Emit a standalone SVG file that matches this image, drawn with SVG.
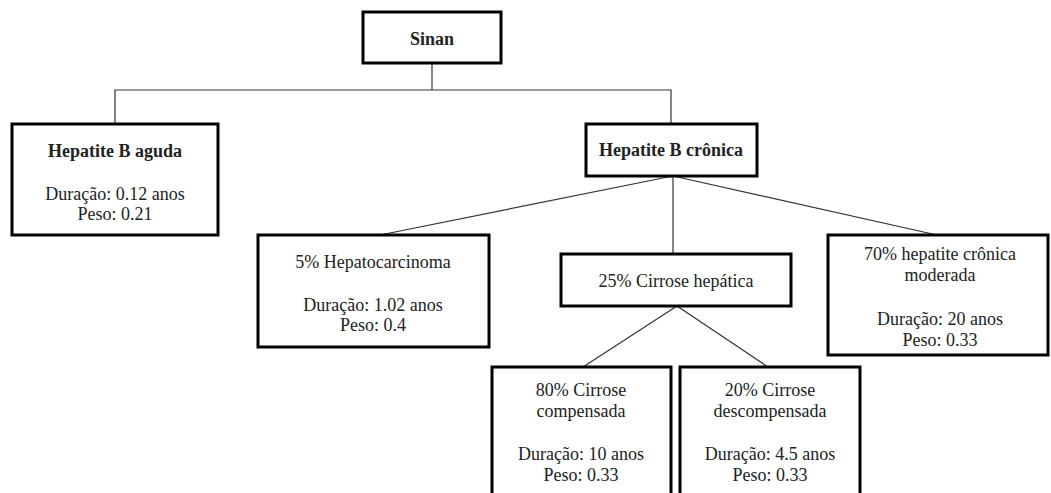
<svg xmlns="http://www.w3.org/2000/svg" width="1051" height="493" viewBox="0 0 1051 493">
<style>
.box{fill:#fff;stroke:#000;stroke-width:3}
.t{font-family:'Liberation Serif','DejaVu Serif','Times New Roman',serif;font-size:18px;fill:#222;text-anchor:middle}
.b{font-weight:bold}
.c{fill:none;stroke:#333;stroke-width:1.2}
</style>
<rect width="1051" height="493" fill="#fff"/>
<g id="connectors">
<polyline class="c" points="432,63 432,90"/>
<polyline class="c" points="115,124 115,90 671,90 671,124"/>
<line class="c" x1="673" y1="176" x2="380" y2="235"/>
<line class="c" x1="673" y1="176" x2="673" y2="254"/>
<line class="c" x1="673" y1="176" x2="937" y2="235"/>
<line class="c" x1="677" y1="306" x2="583" y2="367"/>
<line class="c" x1="677" y1="306" x2="768" y2="367"/>
</g>
<g id="sinan">
<rect class="box" x="363" y="12" width="138" height="51"/>
<text class="t b" x="432" y="45">Sinan</text>
</g>
<g id="aguda">
<rect class="box" x="12" y="124" width="206" height="111"/>
<text class="t b" x="115" y="157">Hepatite B aguda</text>
<text class="t" x="115" y="200">Duração: 0.12 anos</text>
<text class="t" x="115" y="220">Peso: 0.21</text>
</g>
<g id="cronica">
<rect class="box" x="586" y="124" width="171" height="52"/>
<text class="t b" x="671" y="156">Hepatite B crônica</text>
</g>
<g id="hepatocarcinoma">
<rect class="box" x="258" y="235" width="231" height="112"/>
<text class="t" x="373" y="268">5% Hepatocarcinoma</text>
<text class="t" x="373" y="311">Duração: 1.02 anos</text>
<text class="t" x="373" y="331">Peso: 0.4</text>
</g>
<g id="cirrose">
<rect class="box" x="561" y="254" width="230" height="52"/>
<text class="t" x="676" y="287">25% Cirrose hepática</text>
</g>
<g id="moderada">
<rect class="box" x="828" y="235" width="220" height="120"/>
<text class="t" x="940" y="260">70% hepatite crônica</text>
<text class="t" x="940" y="281">moderada</text>
<text class="t" x="940" y="325">Duração: 20 anos</text>
<text class="t" x="940" y="346">Peso: 0.33</text>
</g>
<g id="compensada">
<rect class="box" x="492" y="367" width="179" height="140"/>
<text class="t" x="581" y="396">80% Cirrose</text>
<text class="t" x="581" y="417">compensada</text>
<text class="t" x="581" y="460">Duração: 10 anos</text>
<text class="t" x="581" y="481">Peso: 0.33</text>
</g>
<g id="descompensada">
<rect class="box" x="680" y="367" width="180" height="140"/>
<text class="t" x="770" y="396">20% Cirrose</text>
<text class="t" x="770" y="417">descompensada</text>
<text class="t" x="770" y="460">Duração: 4.5 anos</text>
<text class="t" x="770" y="481">Peso: 0.33</text>
</g>
</svg>
